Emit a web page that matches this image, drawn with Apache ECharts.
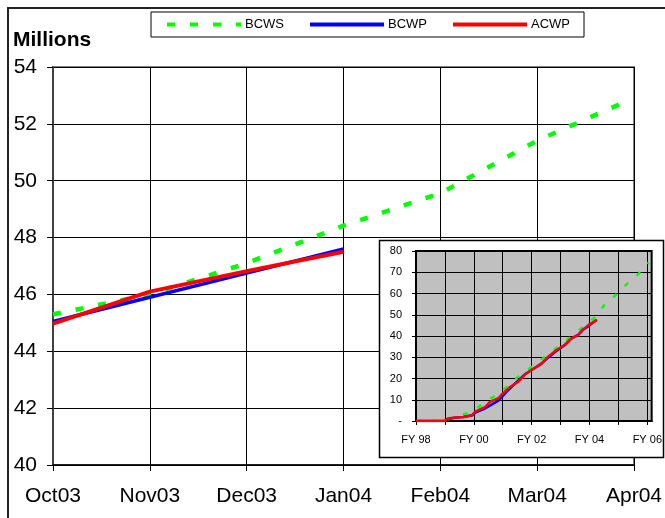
<!DOCTYPE html>
<html>
<head>
<meta charset="utf-8">
<script src="https://cdn.jsdelivr.net/npm/echarts@6/dist/echarts.min.js"></script>
<style>html,body{margin:0;padding:0;background:#fff;}#c{width:665px;height:518px;}</style>
</head>
<body>
<div id="c"></div>
<script>
// ---- data ----
const monthLabels = ['Oct03', 'Nov03', 'Dec03', 'Jan04', 'Feb04', 'Mar04', 'Apr04'];
const seriesNames = ['BCWS', 'BCWP', 'ACWP'];

// main chart (month index from Oct03)
const mainBcwsPos = [0, 1, 2, 3, 4, 5, 5.88];
const mainBcws = [45.3, 46.0, 47.1, 48.42, 49.56, 51.41, 52.73];
const mainBcwpPos = [0, 1, 2, 3];
const mainBcwp = [45.05, 45.9, 46.75, 47.6];
const mainAcwpPos = [0, 1, 2, 3];
const mainAcwp = [44.97, 46.1, 46.82, 47.5];
const mainYTicks = [40, 42, 44, 46, 48, 50, 52, 54];

// inset chart (years from FY98)
const insetYearLabels = ['FY 98', 'FY 00', 'FY 02', 'FY 04', 'FY 06'];
const insetBcwsPos = [0, 1.0, 1.3, 1.7, 2.1, 2.5, 2.97, 3.31, 3.77, 4.17, 4.57, 4.98, 5.38, 5.82, 6.24, 6.53, 6.87, 7.28, 7.68, 8.05];
const insetBcws = [0, 0, 2.0, 3.3, 6.0, 9.9, 13.8, 18.5, 23.2, 27.1, 31.5, 35.5, 40, 44.7, 49.4, 54.9, 58.8, 64.3, 69, 74.5];
const insetBcwpPos = [0, 1.0, 1.08, 1.38, 1.65, 1.7, 1.95, 2.05, 2.4, 2.85, 3.14, 3.43, 3.77, 4.0, 4.34, 4.57, 4.86, 5.15, 5.38, 5.61, 5.78, 6.0, 6.25];
const insetBcwp = [0, 0, 0.9, 1.6, 1.9, 2.7, 2.7, 4.0, 6.0, 9.6, 13.8, 17.7, 22, 24, 27, 29.8, 33, 35.8, 38.9, 40.5, 43, 45, 47.6];
const insetAcwpPos = [0, 1.0, 1.07, 1.36, 1.64, 1.7, 1.93, 2.05, 2.4, 2.56, 2.85, 2.97, 3.25, 3.54, 3.77, 4.0, 4.34, 4.57, 4.86, 5.15, 5.38, 5.61, 5.78, 6.0, 6.25];
const insetAcwp = [0, 0, 0.9, 1.6, 1.9, 2.7, 2.7, 4.4, 6.7, 9, 10.7, 12.5, 16, 18.5, 22, 24, 27, 30.3, 33.4, 35.8, 38.9, 40.5, 43, 45.5, 47.5];

// ---- build ----
const zip = (xs, ys) => xs.map((x, i) => [x, ys[i]]);
const FONT = 'Liberation Sans, Arial, sans-serif';
const GREEN = '#00ff00', BLUE = '#0000ff', RED = '#ff0000';

const chart = echarts.init(document.getElementById('c'), null, {renderer: 'canvas'});
chart.setOption({
  animation: false,
  textStyle: {fontFamily: FONT},
  title: {
    text: 'Millions', left: 8, top: 25,
    textStyle: {fontFamily: FONT, fontSize: 21, fontWeight: 'bold', color: '#000'}
  },
  legend: {
    data: seriesNames,
    left: 151, top: 12,
    padding: [6, 14, 6, 14],
    itemWidth: 74, itemHeight: 14, itemGap: 24,
    borderColor: '#000', borderWidth: 1,
    itemStyle: {opacity: 0},
    lineStyle: {width: 4},
    textStyle: {fontFamily: FONT, fontSize: 13, color: '#000', padding: [0, 0, 0, -1]}
  },
  graphic: [
    {type: 'rect', shape: {x: 8, y: 8, width: 720, height: 620}, style: {fill: null, stroke: '#222', lineWidth: 2}, z: 0, silent: true},
    {type: 'rect', shape: {x: 379.5, y: 240.5, width: 284, height: 217}, style: {fill: '#fff', stroke: '#000', lineWidth: 1.5}, z: 10, silent: true}
  ],
  grid: [
    {left: 53, top: 67, right: 31, bottom: 53, show: true, borderColor: '#808080', borderWidth: 2, backgroundColor: 'transparent'},
    {left: 416, top: 251, width: 236, height: 170, show: true, backgroundColor: '#c0c0c0', borderColor: '#000', borderWidth: 2, z: 11}
  ],
  xAxis: [
    {
      gridIndex: 0, type: 'value', min: 0, max: 6, interval: 1,
      axisLine: {show: true, onZero: false, lineStyle: {color: '#000', width: 1.5}},
      axisTick: {show: true, inside: false, length: 6, lineStyle: {color: '#000'}},
      axisLabel: {fontFamily: FONT, fontSize: 21, color: '#000', margin: 21,
        formatter: v => monthLabels[Math.round(v)] || ''},
      splitLine: {show: true, lineStyle: {color: '#000', width: 1}}
    },
    {
      gridIndex: 1, type: 'value', min: 0, max: 8.15, interval: 1, z: 12,
      axisLine: {show: true, onZero: false, lineStyle: {color: '#000', width: 2}},
      axisTick: {show: true, length: 4, lineStyle: {color: '#000'}},
      axisLabel: {fontFamily: FONT, fontSize: 11, color: '#000', margin: 13, showMaxLabel: false,
        formatter: v => (Math.abs(v / 2 - Math.round(v / 2)) < 1e-6 ? (insetYearLabels[Math.round(v / 2)] || '') : '')},
      splitLine: {show: true, lineStyle: {color: '#000', width: 1}}
    }
  ],
  yAxis: [
    {
      gridIndex: 0, type: 'value', min: mainYTicks[0], max: mainYTicks[mainYTicks.length - 1], interval: 2,
      axisLine: {show: true, lineStyle: {color: '#404040', width: 2}},
      axisTick: {show: true, length: 6, lineStyle: {color: '#000'}},
      axisLabel: {fontFamily: FONT, fontSize: 21, color: '#000', margin: 16},
      splitLine: {show: true, lineStyle: {color: '#000', width: 1}}
    },
    {
      gridIndex: 1, type: 'value', min: 0, max: 80, interval: 10, z: 12,
      axisLine: {show: true, lineStyle: {color: '#000', width: 2}},
      axisTick: {show: true, length: 4, lineStyle: {color: '#000'}},
      axisLabel: {fontFamily: FONT, fontSize: 11, color: '#000', margin: 14,
        formatter: v => (v === 0 ? '-' : String(v))},
      splitLine: {show: true, lineStyle: {color: '#000', width: 1}}
    }
  ],
  series: [
    {name: 'BCWS', type: 'line', xAxisIndex: 0, yAxisIndex: 0, symbol: 'none', data: zip(mainBcwsPos, mainBcws),
      itemStyle: {color: GREEN}, lineStyle: {color: GREEN, width: 4.5, type: [8, 15], cap: 'butt'}, z: 3},
    {name: 'BCWP', type: 'line', xAxisIndex: 0, yAxisIndex: 0, symbol: 'none', data: zip(mainBcwpPos, mainBcwp),
      itemStyle: {color: BLUE}, lineStyle: {color: BLUE, width: 3.5}, z: 3},
    {name: 'ACWP', type: 'line', xAxisIndex: 0, yAxisIndex: 0, symbol: 'none', data: zip(mainAcwpPos, mainAcwp),
      itemStyle: {color: RED}, lineStyle: {color: RED, width: 4}, z: 4},
    {name: 'BCWS', type: 'line', xAxisIndex: 1, yAxisIndex: 1, symbol: 'none', data: zip(insetBcwsPos, insetBcws),
      itemStyle: {color: GREEN}, lineStyle: {color: GREEN, width: 2.5, type: [5, 11]}, z: 20},
    {name: 'BCWP', type: 'line', xAxisIndex: 1, yAxisIndex: 1, symbol: 'none', data: zip(insetBcwpPos, insetBcwp),
      itemStyle: {color: BLUE}, lineStyle: {color: BLUE, width: 2.5}, z: 21},
    {name: 'ACWP', type: 'line', xAxisIndex: 1, yAxisIndex: 1, symbol: 'none', data: zip(insetAcwpPos, insetAcwp),
      itemStyle: {color: RED}, lineStyle: {color: RED, width: 2.5}, z: 22}
  ]
});
</script>
</body>
</html>
